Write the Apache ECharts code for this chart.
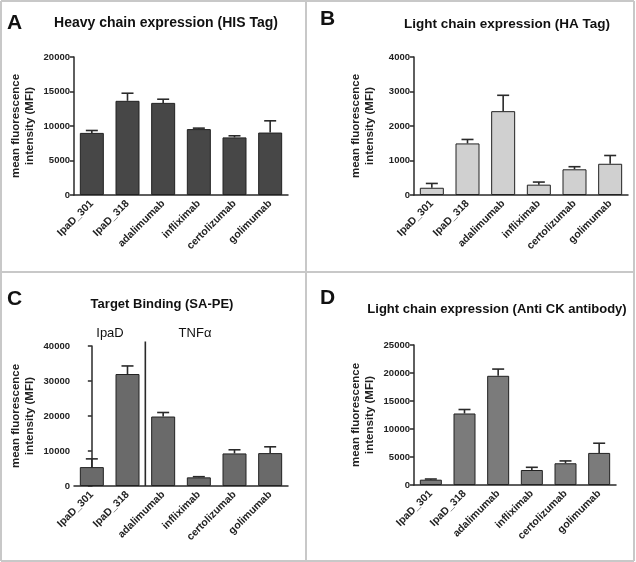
<!DOCTYPE html>
<html>
<head>
<meta charset="utf-8">
<script src="https://cdn.jsdelivr.net/npm/echarts@6/dist/echarts.min.js"></script>
<style>html,body{margin:0;padding:0;background:#fff;}#c{width:636px;height:562px;}</style>
</head>
<body>
<div id="c"></div>
<script>
var categories = ['IpaD_301', 'IpaD_318', 'adalimumab', 'infliximab', 'certolizumab', 'golimumab'];

var heavyMean = [9000, 13650, 13350, 9550, 8350, 9050];
var heavySem  = [350, 1100, 530, 140, 230, 1700];

var haMean = [210, 1495, 2430, 300, 745, 905];
var haSem  = [125, 115, 460, 75, 75, 240];

var bindMean = [5400, 32000, 19850, 2470, 9300, 9400];
var bindSem  = [2350, 2300, 1150, 190, 1050, 1800];

var ckMean = [950, 12770, 19500, 2680, 3880, 5730];
var ckSem  = [120, 710, 1200, 480, 420, 1730];

var yTicksA = {max: 20000, interval: 5000};
var yTicksB = {max: 4000, interval: 1000};
var yTicksC = {max: 40000, interval: 10000};
var yTicksD = {max: 25000, interval: 5000};

var dividerX = 1.5;

var FONT = '"Liberation Sans", Arial, Helvetica, sans-serif';
var AX = '#2a2a2a';

var chart = echarts.init(document.getElementById('c'));

var grids = [
  {left: 74, top: 57, width: 214, height: 138},
  {left: 414, top: 57, width: 214, height: 138},
  {left: 74, top: 346, width: 214, height: 140},
  {left: 414, top: 345, width: 202, height: 140}
];

function xAx(i) {
  return {
    type: 'category', gridIndex: i, data: categories,
    boundaryGap: true,
    axisLine: {lineStyle: {color: AX, width: 1.5}},
    axisTick: {alignWithLabel: true, length: 5, lineStyle: {color: AX, width: 1.5}},
    axisLabel: {rotate: 45, fontFamily: FONT, fontWeight: 'bold', fontSize: 10.5, color: '#222', margin: 7, interval: 0}
  };
}
function yAx(i, t) {
  return {
    type: 'value', gridIndex: i, min: 0, max: t.max, interval: t.interval,
    name: 'mean fluorescence\nintensity (MFI)', nameLocation: 'middle', nameGap: 37,
    nameTextStyle: {fontFamily: FONT, fontWeight: 'bold', fontSize: 11.5, color: '#222', lineHeight: 14},
    splitLine: {show: false},
    axisLine: {show: true, lineStyle: {color: AX, width: 1.5}},
    axisTick: {show: true, length: 4, lineStyle: {color: AX, width: 1.5}},
    axisLabel: {fontFamily: FONT, fontWeight: 'bold', fontSize: 9.5, color: '#222', margin: 4,
      formatter: function (v) { return String(v); }}
  };
}

function bars(i, data, color, w) {
  return {
    type: 'bar', xAxisIndex: i, yAxisIndex: i, data: data, barWidth: w,
    itemStyle: {color: color, borderColor: '#222', borderWidth: 1},
    silent: true, animation: false
  };
}
function errs(i, mean, sem) {
  var d = mean.map(function (m, k) { return [k, m, m + sem[k]]; });
  return {
    type: 'custom', xAxisIndex: i, yAxisIndex: i, data: d, animation: false, silent: true,
    renderItem: function (params, api) {
      var p0 = api.coord([api.value(0), api.value(1)]);
      var p1 = api.coord([api.value(0), api.value(2)]);
      var hw = 6;
      var st = {stroke: '#2a2a2a', lineWidth: 1.6};
      return {type: 'group', children: [
        {type: 'line', shape: {x1: p0[0], y1: p0[1], x2: p1[0], y2: p1[1]}, style: st},
        {type: 'line', shape: {x1: p1[0] - hw, y1: p1[1], x2: p1[0] + hw, y2: p1[1]}, style: st}
      ]};
    }
  };
}

var xAxes = [xAx(0), xAx(1), xAx(2), xAx(3),
  {type: 'value', gridIndex: 2, min: -0.5, max: 5.5, show: false}];
var yAxes = [yAx(0, yTicksA), yAx(1, yTicksB), yAx(2, yTicksC), yAx(3, yTicksD)];

var series = [
  bars(0, heavyMean, '#474747', 24), errs(0, heavyMean, heavySem),
  bars(1, haMean, '#d0d0d0', 24), errs(1, haMean, haSem),
  bars(2, bindMean, '#6a6a6a', 24), errs(2, bindMean, bindSem),
  bars(3, ckMean, '#7b7b7b', 22), errs(3, ckMean, ckSem),
  {type: 'line', xAxisIndex: 4, yAxisIndex: 2, clip: false, symbol: 'none', silent: true, animation: false,
   data: [[dividerX, 0], [dividerX, 41300]], lineStyle: {color: '#2a2a2a', width: 1.6}}
];

function txt(x, y, s, size, weight, align) {
  return {type: 'text', x: x, y: y, silent: true,
    style: {text: s, fontFamily: FONT, fontSize: size, fontWeight: weight, fill: '#111',
      textAlign: align || 'center', textVerticalAlign: 'middle'}};
}
var BC = '#c8c8c8';
function ln(x1, y1, x2, y2) {
  return {type: 'line', silent: true, shape: {x1: x1, y1: y1, x2: x2, y2: y2}, style: {stroke: BC, lineWidth: 2}};
}

chart.setOption({
  animation: false,
  grid: grids,
  xAxis: xAxes,
  yAxis: yAxes,
  series: series,
  graphic: [
    ln(1, 1, 634, 1), ln(1, 1, 1, 561), ln(634, 1, 634, 561), ln(1, 561, 634, 561),
    ln(306, 1, 306, 561), ln(1, 272, 634, 272),
    txt(7, 23, 'A', 21, 'bold', 'left'),
    txt(320, 19, 'B', 21, 'bold', 'left'),
    txt(7, 299, 'C', 21, 'bold', 'left'),
    txt(320, 298, 'D', 21, 'bold', 'left'),
    txt(166, 23, 'Heavy chain expression (HIS Tag)', 14, 'bold'),
    txt(507, 24, 'Light chain expression (HA Tag)', 13.5, 'bold'),
    txt(162, 304, 'Target Binding (SA-PE)', 13, 'bold'),
    txt(497, 309, 'Light chain expression (Anti CK antibody)', 13, 'bold'),
    txt(110, 333, 'IpaD', 13, 'normal'),
    txt(195, 333, 'TNFα', 13, 'normal')
  ]
});
</script>
</body>
</html>
